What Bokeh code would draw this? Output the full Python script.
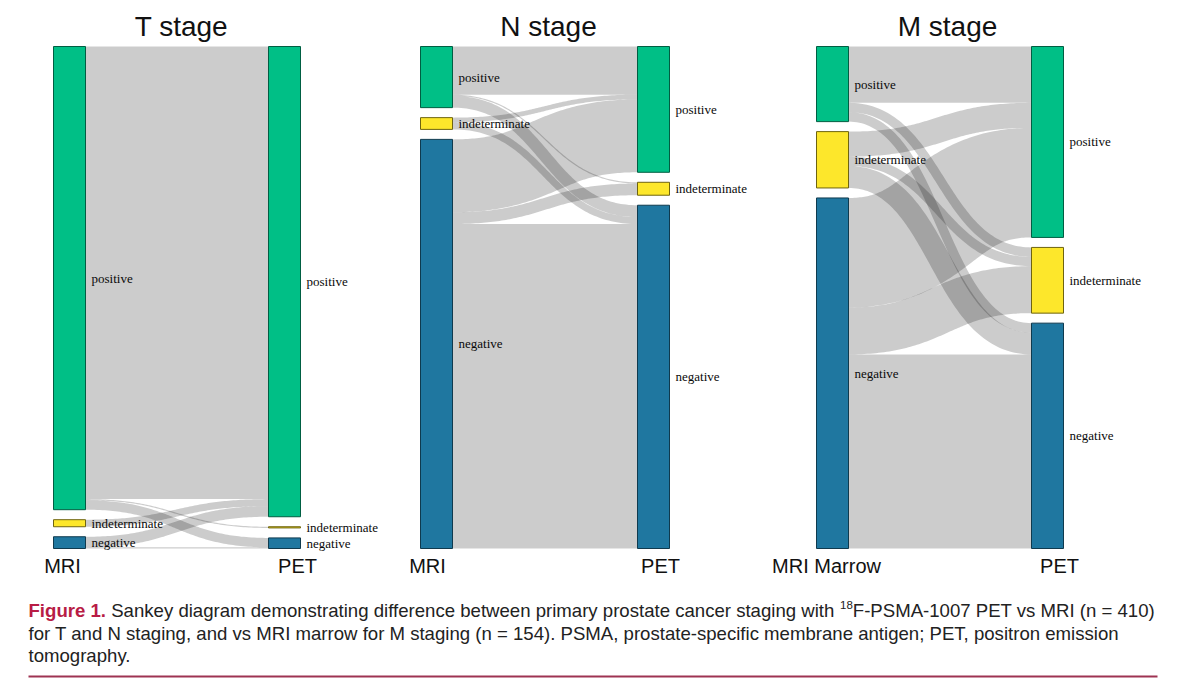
import numpy as np
from bokeh.plotting import figure
from bokeh.models import Range1d
from bokeh.embed import file_html
from bokeh.resources import INLINE
from bokeh.core.properties import value

# ---------------- data ----------------
categories = ["positive", "indeterminate", "negative"]
# flows[i][j] = patients in MRI category i that are PET category j
t_stage_flows = [[385, 1, 8], [6, 0, 0], [9, 0, 1]]
n_stage_flows = [[41, 1, 10], [4, 0, 6], [62, 10, 276]]
m_stage_flows = [[18, 3, 3], [8, 3, 7], [35, 15, 62]]
panel_titles = ["T stage", "N stage", "M stage"]
left_axis_labels = ["MRI", "MRI", "MRI Marrow"]
right_axis_labels = ["PET", "PET", "PET"]
caption_bold = "Figure 1."
caption_line1a = "Sankey diagram demonstrating difference between primary prostate cancer staging with"
caption_sup = "18"
caption_line1b = "F-PSMA-1007 PET vs MRI (n = 410)"
caption_line2 = ("for T and N staging, and vs MRI marrow for M staging (n = 154). PSMA, "
                 "prostate-specific membrane antigen; PET, positron emission")
caption_line3 = "tomography."

# ---------------- styling / layout ----------------
node_colors = ["#00BF86", "#FDE72B", "#1F77A0"]
node_strokes = ["#005E42", "#6E6410", "#0F3A4E"]
W, H = 1184, 681
left_cols = [53, 420, 816]
right_cols = [268, 637, 1031]
node_w = 32
top, bottom, pad = 46, 548, 10
title_x = [181, 548, 947]
left_lab_x = [62, 427, 826]
right_lab_x = [297, 660, 1059]
cap_x0, cap_size = 28, 18.6
cap_y = [610, 632.5, 655]

HELV = {' ': 278, 'S': 667, 'a': 556, 'n': 556, 'k': 500, 'e': 556, 'y': 500, 'd': 556,
        'i': 222, 'g': 556, 'r': 333, 'm': 833, 'o': 556, 's': 500, 't': 278, 'f': 278,
        'b': 556, 'w': 722, 'c': 500, 'p': 556, 'h': 556, 'F': 611, '-': 333, 'P': 667,
        'M': 833, 'A': 667, 'E': 667, 'T': 611, 'v': 500, 'R': 722, 'I': 278, '(': 333,
        ')': 333, '=': 584, '.': 278, ',': 278}
HELV_B = {'F': 611, 'i': 278, 'g': 611, 'u': 611, 'r': 389, 'e': 556, ' ': 278, '.': 278}


def tw(s, size, bold=False):
    tab = HELV_B if bold else HELV
    return sum(tab.get(c, 556) for c in s) * size / 1000.0


p = figure(width=W, height=H, x_range=Range1d(0, W), y_range=Range1d(H, 0),
           x_axis_type=None, y_axis_type=None, toolbar_location=None,
           output_backend="svg", min_border=0, outline_line_color=None)
p.grid.visible = False
p.background_fill_color = "white"
p.border_fill_color = "white"


def band(x0, x1, yc0, yc1, w, n=90):
    t = np.linspace(0, 1, n)
    xm = (x0 + x1) / 2.0
    bx = (1 - t) ** 3 * x0 + 3 * (1 - t) ** 2 * t * xm + 3 * (1 - t) * t ** 2 * xm + t ** 3 * x1
    by = (1 - t) ** 3 * yc0 + 3 * (1 - t) ** 2 * t * yc0 + 3 * (1 - t) * t ** 2 * yc1 + t ** 3 * yc1
    dx = 3 * (1 - t) ** 2 * (xm - x0) + 3 * t ** 2 * (x1 - xm)
    dy = 6 * (1 - t) * t * (yc1 - yc0)
    L = np.hypot(dx, dy)
    nx, ny = -dy / L * w / 2, dx / L * w / 2
    return (list(np.concatenate([bx + nx, (bx - nx)[::-1]])),
            list(np.concatenate([by + ny, (by - ny)[::-1]])))


def stack(vals, ky):
    out, y = [], top
    for v in vals:
        out.append((y, y + v * ky))
        y += v * ky + pad
    return out


link_xs, link_ys = [], []
nodes = dict(left=[], right=[], top=[], bottom=[], fill=[], line=[])
labels = dict(x=[], y=[], text=[])

for k, flows in enumerate([t_stage_flows, n_stage_flows, m_stage_flows]):
    F = np.asarray(flows, float)
    nc = len(categories)
    lv, rv = F.sum(1), F.sum(0)
    ky = (bottom - top - pad * (nc - 1)) / lv.sum()
    lpos, rpos = stack(lv, ky), stack(rv, ky)
    lx, rx = left_cols[k], right_cols[k]
    for col_x, pos in ((lx, lpos), (rx, rpos)):
        for c, (y0, y1) in enumerate(pos):
            nodes["left"].append(col_x)
            nodes["right"].append(col_x + node_w)
            nodes["top"].append(y0)
            nodes["bottom"].append(y1)
            nodes["fill"].append(node_colors[c])
            nodes["line"].append(node_strokes[c])
            labels["x"].append(col_x + node_w + 6)
            labels["y"].append((y0 + y1) / 2)
            labels["text"].append(categories[c])
    s_cur = [y0 for y0, _ in lpos]
    t_cur = [y0 for y0, _ in rpos]
    src, tgt = {}, {}
    for i in range(nc):
        for j in range(nc):
            if F[i, j] > 0:
                src[(i, j)] = s_cur[i]
                s_cur[i] += F[i, j] * ky
    for j in range(nc):
        for i in range(nc):
            if F[i, j] > 0:
                tgt[(i, j)] = t_cur[j]
                t_cur[j] += F[i, j] * ky
    for (i, j), sy in src.items():
        w = F[i, j] * ky
        xs, ys = band(lx + node_w, rx, sy + w / 2, tgt[(i, j)] + w / 2, w)
        link_xs.append(xs)
        link_ys.append(ys)

p.patches(link_xs, link_ys, fill_color="black", fill_alpha=0.2, line_color=None)
p.quad(left="left", right="right", top="top", bottom="bottom", fill_color="fill",
       line_color="line", line_width=1, source=nodes)
p.text(x="x", y="y", text="text", source=labels, text_font=value("Liberation Serif"),
       text_font_size=value("13px"), text_baseline="middle", text_align="left",
       text_color="#0a0a0a")

# titles and axis labels
p.text(x=title_x, y=[26] * 3, text=panel_titles, text_font=value("Liberation Sans"),
       text_font_size=value("28px"), text_baseline="middle", text_align="center",
       text_color="#111111")
p.text(x=left_lab_x + right_lab_x, y=[565] * 6, text=left_axis_labels + right_axis_labels,
       text_font=value("Liberation Sans"), text_font_size=value("20px"),
       text_baseline="middle", text_align="center", text_color="#111111")

# caption
fs = "%.1fpx" % cap_size
xa = cap_x0 + tw(caption_bold + " ", cap_size, bold=True)
xs_sup = xa + tw(caption_line1a + " ", cap_size)
sup_size = cap_size * 0.62
xb = xs_sup + tw(caption_sup, sup_size)
p.text(x=[cap_x0], y=[cap_y[0]], text=[caption_bold], text_font=value("Liberation Sans"),
       text_font_size=value(fs), text_font_style="bold", text_baseline="middle",
       text_color="#B81C45")
p.text(x=[xa, xb, cap_x0, cap_x0], y=[cap_y[0], cap_y[0], cap_y[1], cap_y[2]],
       text=[caption_line1a, caption_line1b, caption_line2, caption_line3],
       text_font=value("Liberation Sans"), text_font_size=value(fs),
       text_baseline="middle", text_color="#222222")
p.text(x=[xs_sup], y=[cap_y[0] - 6], text=[caption_sup], text_font=value("Liberation Sans"),
       text_font_size=value("%.1fpx" % sup_size), text_baseline="middle", text_color="#222222")
p.segment(x0=[28], y0=[676], x1=[1157], y1=[676], line_color="#9E3352", line_width=2)

open("out.html", "w").write(file_html(p, INLINE))
